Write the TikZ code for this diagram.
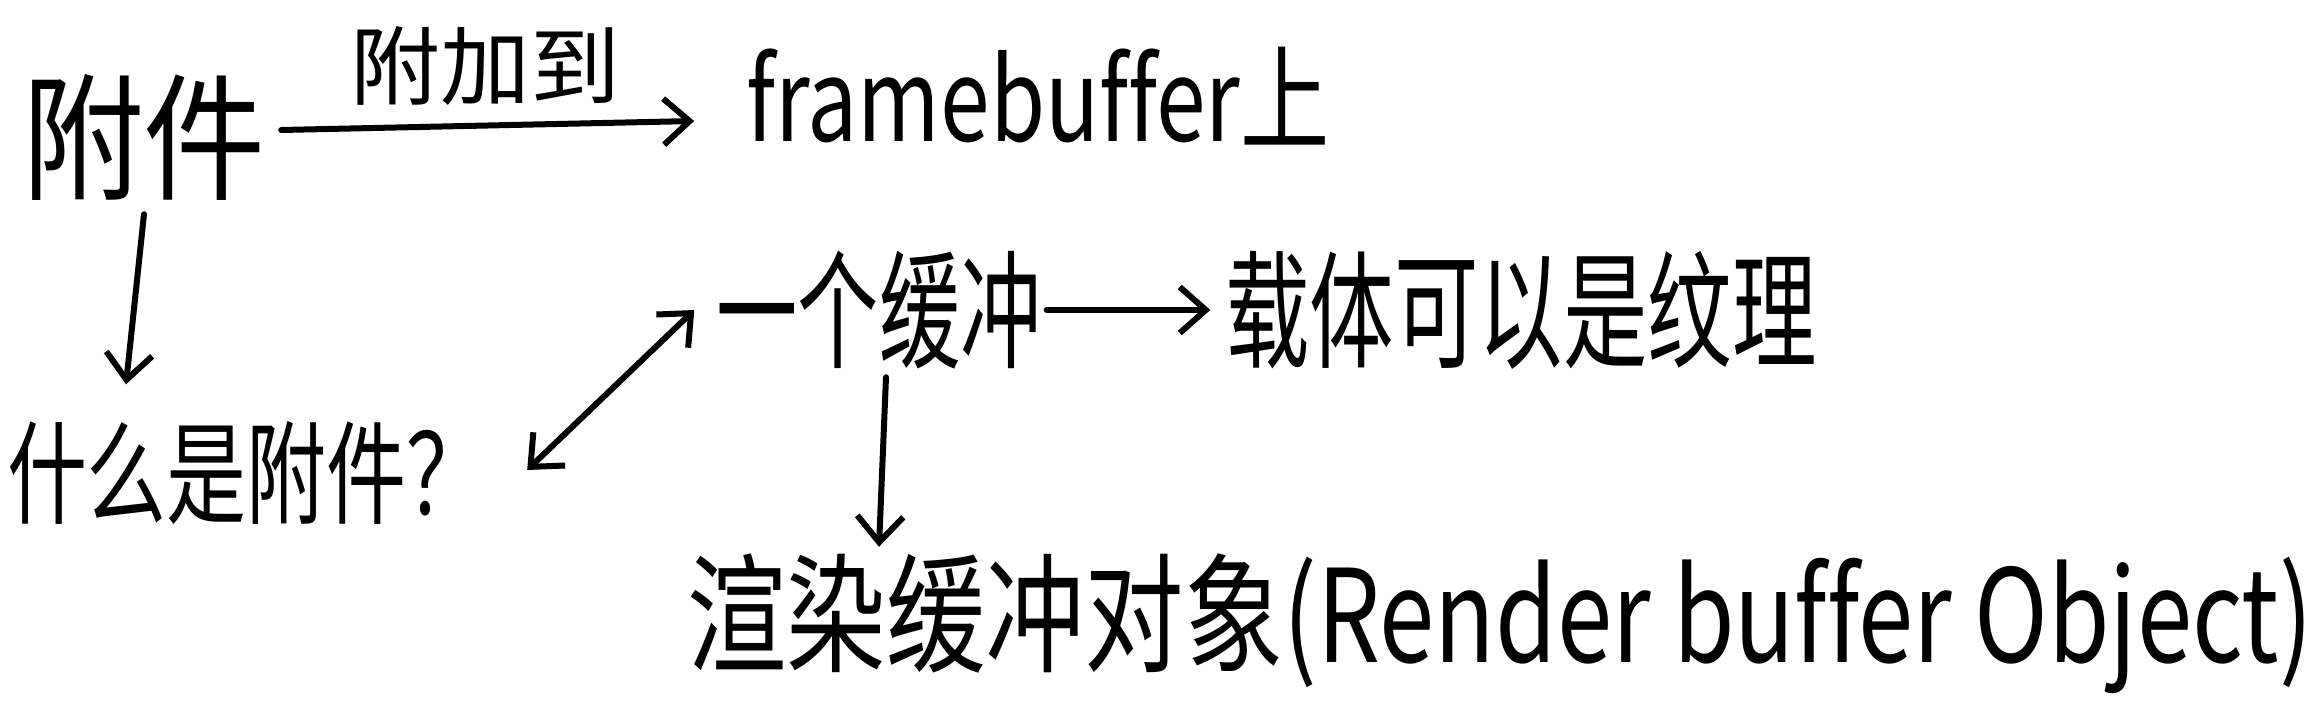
\documentclass[tikz,border=0pt]{standalone}
\usepackage{graphicx}
\usepackage{fontspec}
\setmainfont[Ligatures=NoCommon]{Noto Sans CJK SC}
\usetikzlibrary{arrows.meta}
\newcommand{\hwbox}[3]{\resizebox*{#1}{#2}{#3}}
\begin{document}
\begin{tikzpicture}[x=1pt,y=-1pt,
  lbl/.style={inner sep=0pt, anchor=center, text=black},
  conn/.style={line width=6pt, line cap=round, line join=round, draw=black},
  tip/.style={-{Straight Barb[length=26pt,width=46pt]}},
  dtip/.style={{Straight Barb[length=26pt,width=46pt]}-{Straight Barb[length=26pt,width=46pt]}}]
\useasboundingbox (0,0) rectangle (2316,718);
\fill[white] (0,0) rectangle (2316,718);

\node[lbl] (att) at (144,137) {\hwbox{244pt}{126pt}{附件}};
\node[lbl] (lab) at (485,66) {\hwbox{270pt}{79pt}{附加到}};
\node[lbl] (fb) at (1038,96) {\hwbox{583pt}{98pt}{framebuffer上}};
\node[lbl] (q) at (247,473) {\hwbox{480pt}{103pt}{什么是附件？}};
\node[lbl] (buf) at (879,310) {\hwbox{325pt}{118pt}{一个缓冲}};
\node[lbl] (car) at (1521,310) {\hwbox{591pt}{118pt}{载体可以是纹理}};
\node[lbl] (ro) at (1500,624) {\hwbox{1625pt}{140pt}{渲染缓冲对象(Render buffer Object)}};

\draw[conn,tip] ([xshift=15pt,yshift=7pt]att.east) -- ([xshift=-52pt,yshift=-25pt]fb.west);
\draw[conn,tip] ([yshift=-14pt]att.south) -- ([xshift=-121pt,yshift=37pt]q.north);
\draw[conn,dtip] ([xshift=40pt,yshift=3pt]q.east) -- ([xshift=-22pt]buf.west);
\draw[conn,tip] ([xshift=5pt]buf.east) -- ([xshift=-15pt]car.west);
\draw[conn,tip] ([xshift=7pt,yshift=-8pt]buf.south) -- ([xshift=-621pt,yshift=7pt]ro.north);
\end{tikzpicture}
\end{document}
